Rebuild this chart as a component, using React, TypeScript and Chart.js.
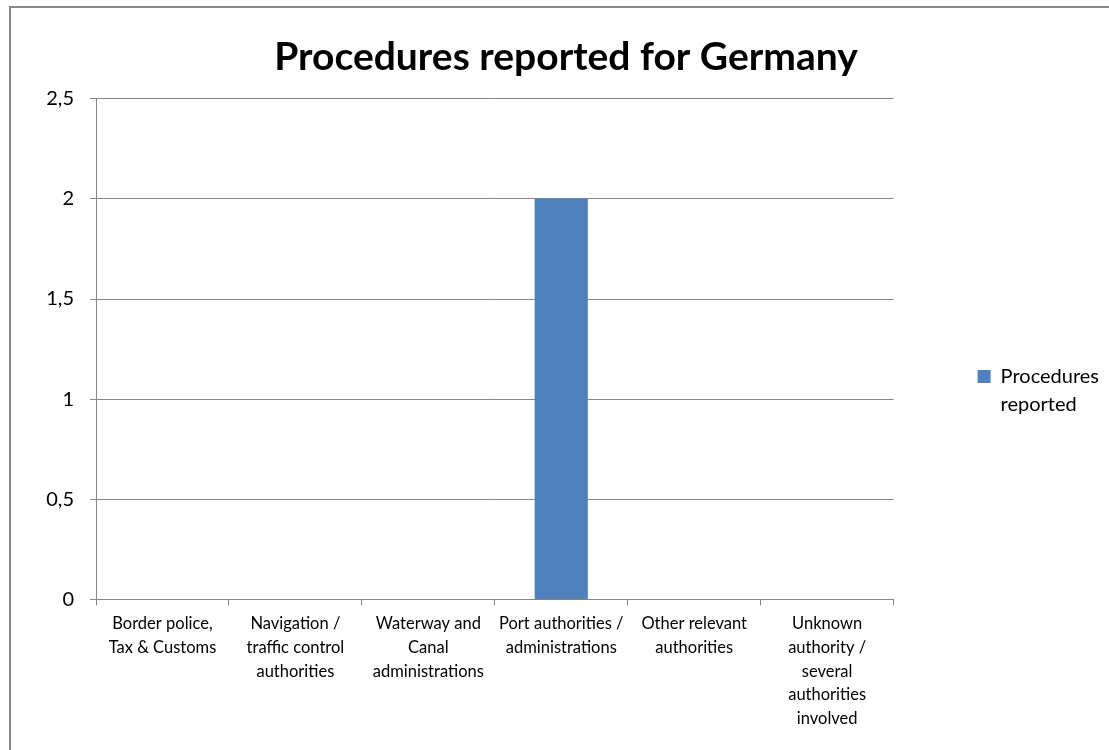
import React, { useEffect, useRef } from 'react';
import { Chart, registerables } from 'chart.js';

Chart.register(...registerables);

const chartTitle = 'Procedures reported for Germany';
const categories: string[][] = [
  ['Border police,', 'Tax & Customs'],
  ['Navigation /', 'traffic control', 'authorities'],
  ['Waterway and', 'Canal', 'administrations'],
  ['Port authorities /', 'administrations'],
  ['Other relevant', 'authorities'],
  ['Unknown', 'authority /', 'several', 'authorities', 'involved'],
];
const seriesLabel: string[] = ['Procedures', 'reported'];
const seriesValues: number[] = [0, 0, 0, 2, 0, 0];
const yTickValues: number[] = [0, 0.5, 1, 1.5, 2, 2.5];

const FONT = 'Lato, "Open Sans", sans-serif';
const BAR = '#4f81bd';
const GRID = '#868686';

export default function App() {
  const ref = useRef<HTMLCanvasElement | null>(null);

  useEffect(() => {
    document.body.style.overflow = 'hidden';
    const canvas = ref.current;
    if (!canvas) return;
    const chart = new Chart(canvas, {
      type: 'bar',
      data: {
        labels: categories,
        datasets: [
          {
            label: seriesLabel.join(' '),
            data: seriesValues,
            backgroundColor: BAR,
            borderWidth: 0,
            barPercentage: 0.4,
            categoryPercentage: 1,
          },
        ],
      },
      options: {
        animation: false,
        responsive: false,
        maintainAspectRatio: false,
        layout: { padding: { left: 23, right: 0, top: 0, bottom: 13 } },
        plugins: {
          tooltip: { enabled: false },
          title: {
            display: true,
            text: chartTitle,
            color: '#000',
            font: { family: FONT, size: 39, weight: 'bold', lineHeight: 1.2 },
            padding: { top: 34, bottom: 18 },
          },
          legend: {
            position: 'right',
            align: 'center',
            title: {
              display: true,
              text: ' ',
              font: { size: 10, lineHeight: 1 },
              padding: { top: 42, bottom: 0 },
            },
            labels: {
              boxWidth: 13,
              boxHeight: 13,
              padding: 84,
              color: '#000',
              font: { family: FONT, size: 20, lineHeight: 1.4 },
              generateLabels: () => [
                {
                  text: seriesLabel as any,
                  fillStyle: BAR,
                  strokeStyle: BAR,
                  fontColor: '#000',
                  lineWidth: 0,
                  hidden: false,
                  datasetIndex: 0,
                } as any,
              ],
            },
          },
        },
        scales: {
          x: {
            offset: true,
            grid: {
              display: true,
              offset: true,
              drawOnChartArea: false,
              drawTicks: true,
              tickLength: 6,
              color: GRID,
            },
            border: { display: true, color: GRID },
            ticks: {
              autoSkip: false,
              maxRotation: 0,
              minRotation: 0,
              padding: 6,
              color: '#000',
              font: { family: FONT, size: 16.5, lineHeight: 1.45 },
            },
          },
          y: {
            min: 0,
            max: 2.5,
            afterFit: (scale: any) => {
              scale.width = 73;
            },
            afterBuildTicks: (scale: any) => {
              scale.ticks = yTickValues.map((v) => ({ value: v }));
            },
            grid: {
              color: GRID,
              drawTicks: true,
              tickLength: 6,
            },
            border: { display: true, color: GRID },
            ticks: {
              padding: 16,
              color: '#000',
              font: { family: FONT, size: 20 },
              callback: (v: any) => String(v).replace('.', ','),
            },
          },
        },
      },
    });
    return () => chart.destroy();
  }, []);

  return (
    <div
      style={{
        position: 'fixed',
        left: 0,
        top: 0,
        width: 1109,
        height: 750,
        overflow: 'hidden',
        background: '#fff',
      }}
    >
      <canvas ref={ref} width={1109} height={750} style={{ position: 'absolute', left: 0, top: 0 }} />
      <div
        style={{
          position: 'absolute',
          left: 9,
          top: 6,
          width: 1200,
          height: 900,
          border: '2px solid #8a8a8a',
          pointerEvents: 'none',
        }}
      />
    </div>
  );
}
